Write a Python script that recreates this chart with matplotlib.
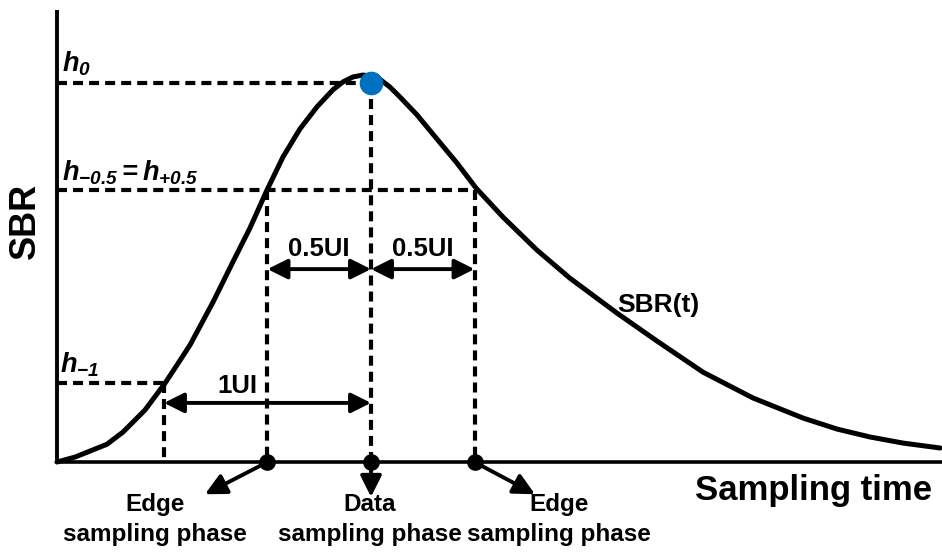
import numpy as np
import matplotlib
matplotlib.use('Agg')
from matplotlib import pyplot as plt

# SBR pulse: time in UI (data phase at 0), SBR normalised to h0
t_curve = [-1.517, -1.430, -1.357, -1.275, -1.198, -1.092, -0.995, -0.937, -0.874, -0.763,
           -0.667, -0.585, -0.502, -0.425, -0.343, -0.261, -0.184, -0.135, -0.087, -0.039,
           0.029, 0.092, 0.140, 0.222, 0.319, 0.415, 0.507, 0.638, 0.802, 0.961,
           1.188, 1.382, 1.604, 1.845, 2.087, 2.251, 2.411, 2.570, 2.749]
s_curve = [0.000, 0.013, 0.029, 0.047, 0.079, 0.137, 0.208, 0.256, 0.309, 0.422,
           0.528, 0.617, 0.718, 0.805, 0.879, 0.937, 0.982, 1.003, 1.016, 1.021,
           1.016, 0.989, 0.963, 0.916, 0.852, 0.789, 0.723, 0.646, 0.559, 0.485,
           0.393, 0.319, 0.237, 0.169, 0.116, 0.087, 0.066, 0.050, 0.037]

# sampling phases (UI) and the cursor levels
phase_t = [-0.5, 0.0, 0.5]
phase_names = ['Edge\nsampling phase', 'Data\nsampling phase', 'Edge\nsampling phase']
h0 = 1.0
h_half = 0.718
h_m1 = 0.208
t_m1 = -1.0
level_labels = [r'$h_{0}$', r'$h_{-0.5} = h_{+0.5}$', r'$h_{-1}$']

t_origin, t_end, s_top = -1.517, 2.758, 1.193

plt.rcParams['font.family'] = ['Liberation Sans', 'DejaVu Sans']
plt.rcParams['mathtext.fontset'] = 'custom'
plt.rcParams['mathtext.it'] = 'Liberation Sans:italic:bold'
plt.rcParams['mathtext.rm'] = 'Liberation Sans:italic:bold'
plt.rcParams['mathtext.bf'] = 'Liberation Sans:italic:bold'

fig = plt.figure(figsize=(9.42, 5.53), dpi=100)
ax = fig.add_axes([0, 0, 1, 1])
ax.set_xlim(-1.792, 2.758)
ax.set_ylim(-0.240, 1.219)
ax.axis('off')

# axes
ax.plot([t_origin, t_origin], [0, s_top], color='k', lw=2.8, solid_capstyle='butt')
ax.plot([t_origin, t_end], [0, 0], color='k', lw=2.6, solid_capstyle='butt')

dash = dict(color='k', lw=3, linestyle=(0, (2.4, 1.45)), dash_capstyle='butt')
# horizontal guides
ax.plot([t_origin, phase_t[1]], [h0, h0], **dash)
ax.plot([t_origin, phase_t[2]], [h_half, h_half], **dash)
ax.plot([t_origin, t_m1], [h_m1, h_m1], **dash)
# vertical guides
ax.plot([phase_t[1], phase_t[1]], [h0, 0], **dash)
ax.plot([phase_t[0], phase_t[0]], [h_half, 0], **dash)
ax.plot([phase_t[2], phase_t[2]], [h_half, 0], **dash)
ax.plot([t_m1, t_m1], [h_m1, 0], **dash)

ax.plot(t_curve, s_curve, color='k', lw=3.6, solid_joinstyle='round',
        solid_capstyle='round', zorder=4)
ax.plot(phase_t, [0, 0, 0], 'o', color='k', ms=11, zorder=5)
ax.plot([phase_t[1]], [h0], 'o', color='#0070C0', ms=16, zorder=6)

# dimension arrows
dim = dict(arrowstyle='<|-|>,head_length=0.8,head_width=0.4', lw=2.8, color='k',
           mutation_scale=15, shrinkA=0, shrinkB=0)
y_half_arrow = 0.509
y_ui_arrow = 0.156
ax.annotate('', xy=(phase_t[0], y_half_arrow), xytext=(phase_t[1], y_half_arrow), arrowprops=dim)
ax.annotate('', xy=(phase_t[1], y_half_arrow), xytext=(phase_t[2], y_half_arrow), arrowprops=dim)
ax.annotate('', xy=(t_m1, y_ui_arrow), xytext=(phase_t[1], y_ui_arrow), arrowprops=dim)
lab = dict(fontsize=18.5, fontweight='bold', ha='center', va='center')
ax.text(-0.25, 0.562, '0.5UI', **lab)
ax.text(0.25, 0.562, '0.5UI', **lab)
ax.text(-0.647, 0.2005, '1UI', **lab)
ax.text(1.188, 0.414, 'SBR(t)', fontsize=19, fontweight='bold', ha='left', va='center')

# phase arrows and labels
one = dict(arrowstyle='-|>,head_length=0.8,head_width=0.4', lw=2.8, color='k',
           mutation_scale=16, shrinkA=0, shrinkB=0)
tips = [(-0.802, -0.085), (0.0, -0.092), (0.792, -0.085)]
label_t = [-1.043, -0.005, 0.908]
for t, tip, lt, name in zip(phase_t, tips, label_t, phase_names):
    ax.annotate('', xy=tip, xytext=(t, 0), arrowprops=one)
    ax.text(lt, -0.082, name, fontsize=17.5, fontweight='bold', ha='center', va='top',
            linespacing=1.38)

# level labels
ax.text(-1.492, 1.030, level_labels[0], fontsize=19.5, ha='left', va='baseline')
ax.text(-1.492, 0.742, level_labels[1], fontsize=19.5, ha='left', va='baseline')
ax.text(-1.502, 0.237, level_labels[2], fontsize=19.5, ha='left', va='baseline')

fig.text(25 / 942, 1 - 221 / 553, 'SBR', fontsize=26, fontweight='bold', rotation=90,
         ha='center', va='center')
fig.text(932 / 942, 1 - 500 / 553, 'Sampling time', fontsize=25, fontweight='bold',
         ha='right', va='baseline')

fig.savefig('out.png', dpi=100)
